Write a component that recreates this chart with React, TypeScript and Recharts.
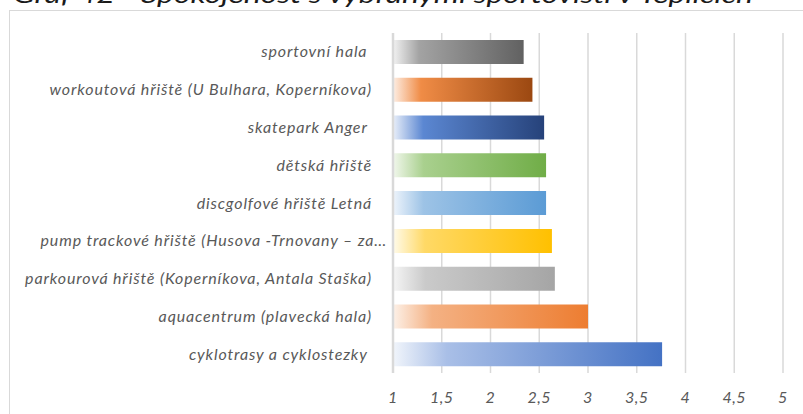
import React from "react";
import { BarChart, Bar, XAxis, YAxis, CartesianGrid, Cell } from "recharts";

const categories = [
  "sportovní hala ",
  "workoutová hřiště (U Bulhara, Koperníkova)",
  "skatepark Anger ",
  "dětská hřiště",
  "discgolfové hřiště Letná",
  "pump trackové hřiště (Husova -Trnovany – za…",
  "parkourová hřiště (Koperníkova, Antala Staška)",
  "aquacentrum (plavecká hala)",
  "cyklotrasy a cyklostezky ",
];
const values = [2.34, 2.43, 2.55, 2.57, 2.57, 2.63, 2.66, 3.0, 3.76];
const xTicks = [1, 1.5, 2, 2.5, 3, 3.5, 4, 4.5, 5];
const title = "Graf 42 - Spokojenost s vybranými sportovišti v Teplicích";

const gradients: [string, string, string][] = [
  ["#f2f2f2", "#a3a3a3", "#616161"],
  ["#fdeee4", "#f08c46", "#9b4811"],
  ["#e9eff9", "#5b87d2", "#26427a"],
  ["#f1f7ec", "#a9d08e", "#70ad47"],
  ["#eef4fb", "#9dc3e6", "#5b9bd5"],
  ["#fffbeb", "#ffd966", "#ffc000"],
  ["#f5f5f5", "#cacaca", "#a5a5a5"],
  ["#fdf1e8", "#f4b183", "#ed7d31"],
  ["#f1f5fb", "#a9bfe7", "#4472c4"],
];

const data = categories.map((name, i) => ({ name, value: values[i] }));

const FONT = "Lato, 'Open Sans', sans-serif";

const YTick = (props: any) => {
  const { x, y, payload } = props;
  const label: string = payload.value;
  const shift = label.endsWith("…") ? 15 : 0;
  return (
    <text
      x={x + shift}
      y={y}
      dy="0.35em"
      textAnchor="end"
      fill="#595959"
      fontSize={16}
      letterSpacing={0.85}
      fontStyle="italic"
      fontFamily={FONT}
      style={{ whiteSpace: "pre" }}
    >
      {label}
    </text>
  );
};

const XTick = (props: any) => {
  const { x, y, payload } = props;
  return (
    <text
      x={x}
      y={y}
      dy="0.35em"
      textAnchor="middle"
      fill="#595959"
      fontSize={16}
      letterSpacing={0.5}
      fontStyle="italic"
      fontFamily={FONT}
    >
      {String(payload.value).replace(".", ",")}
    </text>
  );
};

export default function App() {
  return (
    <div
      style={{
        position: "absolute",
        left: 0,
        top: 0,
        width: 803,
        height: 414,
        overflow: "hidden",
        background: "#ffffff",
      }}
    >
      <svg
        width={803}
        height={20}
        style={{ position: "absolute", left: 0, top: 0 }}
      >
        <text
          x={13}
          y={2.5}
          fontSize={24}
          fontStyle="italic"
          fontFamily={FONT}
          fill="#1a1a1a"
          textLength={740}
          lengthAdjust="spacingAndGlyphs"
        >
          {title}
        </text>
      </svg>
      <div
        style={{
          position: "absolute",
          left: 9,
          top: 10,
          width: 820,
          height: 430,
          border: "1.5px solid #d9d9d9",
          boxSizing: "border-box",
        }}
      />
      <div style={{ position: "absolute", left: 0, top: 0 }}>
        <BarChart
          width={803}
          height={414}
          layout="vertical"
          data={data}
          margin={{ top: 33, right: 20, left: 0, bottom: 0 }}
          barSize={24}
        >
          <defs>
            {gradients.map((g, i) => (
              <linearGradient key={i} id={`grad${i}`} x1="0" y1="0" x2="1" y2="0">
                <stop offset="0" stopColor={g[0]} />
                <stop offset="0.2" stopColor={g[1]} />
                <stop offset="1" stopColor={g[2]} />
              </linearGradient>
            ))}
          </defs>
          <CartesianGrid
            vertical={true}
            horizontal={false}
            stroke="#d9d9d9"
            strokeWidth={1.5}
          />
          <XAxis
            type="number"
            domain={[1, 5]}
            ticks={xTicks}
            tickLine={false}
            axisLine={false}
            height={41}
            interval={0}
            tick={<XTick />}
            tickMargin={18}
            allowDataOverflow
          />
          <YAxis
            type="category"
            dataKey="name"
            width={393}
            tickLine={false}
            axisLine={{ stroke: "#d9d9d9", strokeWidth: 2.5 }}
            tick={<YTick />}
            tickSize={0}
            tickMargin={21}
            interval={0}
          />
          <Bar dataKey="value" isAnimationActive={false} baseValue={1}>
            {data.map((_, i) => (
              <Cell key={i} fill={`url(#grad${i})`} />
            ))}
          </Bar>
        </BarChart>
      </div>
    </div>
  );
}
